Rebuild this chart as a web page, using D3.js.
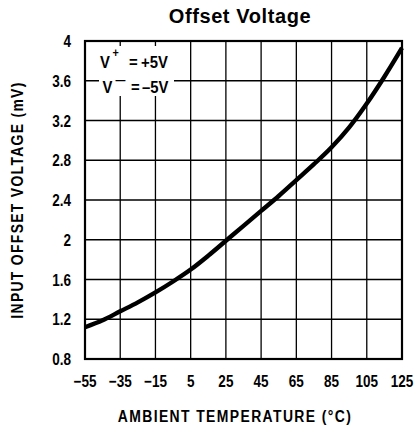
<!DOCTYPE html>
<html><head><meta charset="utf-8">
<script src="https://cdn.jsdelivr.net/npm/d3@7"></script>
<style>body{margin:0;background:#fff}</style>
</head><body><svg id="c" width="419" height="430"></svg>
<script>
const temps = [-55, -45, -35, -25, -15, -5, 5, 15, 25, 35, 45, 55, 65, 75, 85, 95, 105, 115, 125];
const offsetMv = [1.12, 1.19, 1.28, 1.37, 1.47, 1.58, 1.70, 1.84, 1.99, 2.14, 2.29, 2.44, 2.60, 2.76, 2.93, 3.13, 3.37, 3.64, 3.93];
const xTicks = [-55, -35, -15, 5, 25, 45, 65, 85, 105, 125];
const xTickLabels = ["−55", "−35", "−15", "5", "25", "45", "65", "85", "105", "125"];
const yTicks = [0.8, 1.2, 1.6, 2, 2.4, 2.8, 3.2, 3.6, 4];
const yTickLabels = ["0.8", "1.2", "1.6", "2", "2.4", "2.8", "3.2", "3.6", "4"];

const svg = d3.select("#c");
const L = 85, R = 402, T = 41, B = 359;
const x = d3.scaleLinear().domain([-55, 125]).range([L, R]);
const y = d3.scaleLinear().domain([0.8, 4]).range([B, T]);
const font = "'Liberation Sans', Arial, sans-serif";
const SX = 0.82;

// grid
const g = svg.append("g");
g.selectAll("line.v").data(xTicks).join("line")
  .attr("x1", d => x(d)).attr("x2", d => x(d)).attr("y1", T).attr("y2", B)
  .attr("stroke", "#000").attr("stroke-width", 1.3);
g.selectAll("line.h").data(yTicks).join("line")
  .attr("y1", d => y(d)).attr("y2", d => y(d)).attr("x1", L).attr("x2", R)
  .attr("stroke", "#000").attr("stroke-width", 1.3);

// legend text with white background
svg.append("rect").attr("x", 99).attr("y", 46).attr("width", 75).attr("height", 50).attr("fill", "#fff");
const leg = svg.append("g").attr("font-family", font).attr("font-weight", "bold").attr("font-size", 16.5).attr("fill", "#000");
function part(px, py, txt, size) {
  leg.append("text").attr("transform", `translate(${px},${py}) scale(0.9,1)`)
    .attr("font-size", size || 16.5).text(txt);
}
part(100, 68, "V");
part(112.5, 57, "+", 12);
part(129, 68, "=");
part(141, 68, "+5V");
part(102.5, 93, "V");
part(115.5, 84, "—", 11);
part(131, 93, "=");
part(142, 93, "–5V");

// frame
svg.append("rect").attr("x", L).attr("y", T).attr("width", R - L).attr("height", B - T)
  .attr("fill", "none").attr("stroke", "#000").attr("stroke-width", 2.2);

// curve
const line = d3.line().x((d, i) => x(temps[i])).y(d => y(d)).curve(d3.curveMonotoneX);
svg.append("path").datum(offsetMv).attr("d", line)
  .attr("fill", "none").attr("stroke", "#000").attr("stroke-width", 4.4).attr("stroke-linecap", "butt");

// tick labels
const tl = svg.append("g").attr("font-family", font).attr("font-weight", "bold").attr("font-size", 16.5).attr("fill", "#000");
tl.selectAll("text.x").data(xTicks).join("text")
  .attr("transform", d => `translate(${x(d)},387) scale(${SX},1)`).attr("text-anchor", "middle")
  .text((d, i) => xTickLabels[i]);
tl.selectAll("text.y").data(yTicks).join("text")
  .attr("transform", d => `translate(71,${y(d) + 6}) scale(${SX},1)`).attr("text-anchor", "end")
  .text((d, i) => yTickLabels[i]);

svg.append("text").attr("x", 240).attr("y", 23).attr("text-anchor", "middle")
  .attr("font-family", font).attr("font-weight", "bold").attr("font-size", 20).attr("letter-spacing", 0.6)
  .text("Offset Voltage");

svg.append("text").attr("transform", `translate(235,422) scale(${SX},1)`).attr("text-anchor", "middle")
  .attr("font-family", font).attr("font-weight", "bold").attr("font-size", 17).attr("letter-spacing", 1.7)
  .text("AMBIENT TEMPERATURE (°C)");

svg.append("text").attr("transform", "translate(23,200) rotate(-90) scale(" + SX + ",1)").attr("text-anchor", "middle")
  .attr("font-family", font).attr("font-weight", "bold").attr("font-size", 17).attr("letter-spacing", 1.6)
  .text("INPUT OFFSET VOLTAGE (mV)");
</script></body></html>
